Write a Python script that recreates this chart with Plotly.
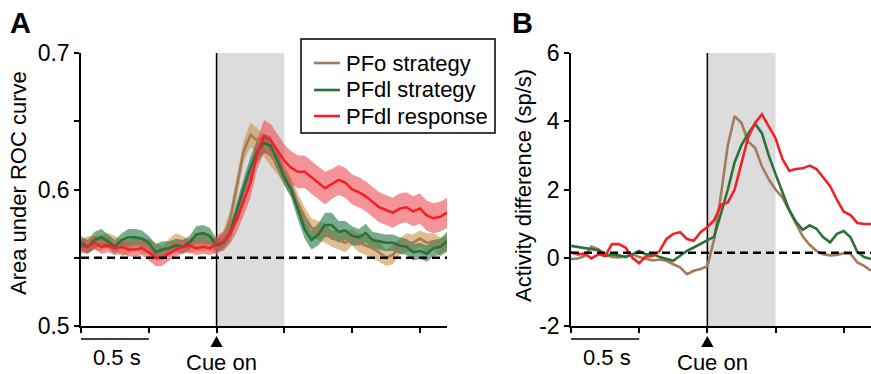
import numpy as np
import plotly.graph_objects as go

# ---------------- data ----------------
T_A = [round(-1.0 + 0.05 * i, 2) for i in range(55)]   # -1.00 .. 1.70 s
T_B = [round(-1.0 + 0.05 * i, 2) for i in range(45)]   # -1.00 .. 1.20 s

SERIES_NAMES = ["PFo strategy", "PFdl strategy", "PFdl response"]

A_PFO_STRAT = [0.558, 0.560, 0.561, 0.561, 0.563, 0.561, 0.557, 0.558, 0.561, 0.559, 0.558,
               0.555, 0.553, 0.559, 0.562, 0.561, 0.558, 0.561, 0.561, 0.560, 0.558,
               0.564, 0.578, 0.602, 0.628, 0.640, 0.636, 0.632, 0.625, 0.619, 0.611,
               0.602, 0.590, 0.580, 0.572, 0.570, 0.568, 0.564, 0.563, 0.561, 0.565,
               0.561, 0.559, 0.557, 0.554, 0.550, 0.552, 0.558, 0.561, 0.561, 0.564,
               0.561, 0.562, 0.558, 0.560]
A_PFDL_STRAT = [0.561, 0.558, 0.563, 0.565, 0.562, 0.558, 0.563, 0.565, 0.565, 0.564, 0.561,
                0.554, 0.556, 0.557, 0.559, 0.558, 0.561, 0.567, 0.568, 0.566, 0.559,
                0.561, 0.568, 0.585, 0.601, 0.616, 0.628, 0.634, 0.632, 0.621, 0.609,
                0.600, 0.585, 0.571, 0.563, 0.567, 0.574, 0.574, 0.569, 0.570, 0.566,
                0.565, 0.568, 0.563, 0.562, 0.561, 0.561, 0.559, 0.558, 0.554, 0.555,
                0.553, 0.557, 0.558, 0.562]
A_PFDL_RESP = [0.559, 0.558, 0.561, 0.558, 0.559, 0.557, 0.558, 0.556, 0.556, 0.557, 0.554,
               0.550, 0.550, 0.553, 0.556, 0.558, 0.559, 0.557, 0.558, 0.557, 0.560,
               0.562, 0.568, 0.578, 0.591, 0.605, 0.626, 0.639, 0.636, 0.628, 0.621,
               0.616, 0.613, 0.613, 0.609, 0.605, 0.601, 0.604, 0.607, 0.605, 0.600,
               0.598, 0.595, 0.591, 0.587, 0.585, 0.583, 0.586, 0.587, 0.584, 0.586,
               0.581, 0.579, 0.580, 0.583]

A_SEM_PFO_STRAT = [0.005, 0.006, 0.005, 0.006, 0.005, 0.005, 0.006, 0.005, 0.005, 0.006, 0.006,
                   0.006, 0.005, 0.005, 0.006, 0.005, 0.005, 0.006, 0.006, 0.005, 0.006,
                   0.006, 0.007, 0.008, 0.008, 0.009, 0.009, 0.008, 0.008, 0.008, 0.007,
                   0.007, 0.007, 0.007, 0.007, 0.007, 0.007, 0.006, 0.007, 0.007, 0.006,
                   0.007, 0.007, 0.007, 0.007, 0.006, 0.007, 0.006, 0.007, 0.006, 0.006,
                   0.007, 0.006, 0.007, 0.006]
A_SEM_PFDL_STRAT = [0.005, 0.005, 0.006, 0.006, 0.005, 0.005, 0.005, 0.006, 0.006, 0.006, 0.005,
                    0.006, 0.006, 0.005, 0.005, 0.005, 0.005, 0.006, 0.006, 0.006, 0.005,
                    0.005, 0.006, 0.007, 0.007, 0.008, 0.008, 0.007, 0.007, 0.007, 0.006,
                    0.006, 0.007, 0.007, 0.007, 0.008, 0.009, 0.009, 0.008, 0.007, 0.007,
                    0.006, 0.007, 0.006, 0.006, 0.006, 0.006, 0.006, 0.006, 0.006, 0.006,
                    0.006, 0.006, 0.006, 0.007]
A_SEM_PFDL_RESP = [0.005, 0.005, 0.005, 0.005, 0.005, 0.005, 0.005, 0.005, 0.005, 0.005, 0.006,
                   0.006, 0.006, 0.005, 0.005, 0.005, 0.005, 0.005, 0.005, 0.005, 0.006,
                   0.007, 0.008, 0.009, 0.010, 0.011, 0.011, 0.012, 0.012, 0.012, 0.012,
                   0.012, 0.012, 0.012, 0.012, 0.012, 0.012, 0.011, 0.011, 0.011, 0.011,
                   0.011, 0.011, 0.011, 0.011, 0.011, 0.011, 0.011, 0.011, 0.011, 0.011,
                   0.011, 0.011, 0.011, 0.011]

B_PFO_STRAT = [-0.04, -0.02, 0.05, 0.33, 0.25, 0.10, 0.02, 0.01, 0.04, 0.10, 0.02,
               -0.03, -0.08, -0.05, -0.09, -0.19, -0.28, -0.48, -0.38, -0.33, -0.25,
               0.55, 1.85, 3.30, 4.15, 3.95, 3.40, 3.22, 2.68, 2.30, 2.00,
               1.77, 1.40, 1.00, 0.62, 0.38, 0.20, 0.10, 0.07, 0.08, 0.13,
               0.12, -0.14, -0.24, -0.38]
B_PFDL_STRAT = [0.35, 0.32, 0.30, 0.26, 0.22, 0.05, 0.10, 0.07, 0.02, 0.10, 0.20,
                0.10, 0.11, 0.02, -0.04, -0.09, 0.06, 0.20, 0.30, 0.40, 0.50,
                0.62, 1.30, 2.00, 2.80, 3.30, 3.64, 3.93, 3.65, 3.00, 2.45,
                1.95, 1.40, 1.05, 0.82, 0.95, 0.85, 0.60, 0.45, 0.70, 0.78,
                0.60, 0.17, 0.02, -0.04]
B_PFDL_RESP = [0.16, 0.10, 0.12, -0.02, 0.10, 0.05, 0.40, 0.40, 0.30, 0.00, -0.16,
               0.04, 0.05, 0.20, 0.55, 0.70, 0.75, 0.55, 0.50, 0.75, 0.90,
               1.10, 1.55, 1.62, 2.00, 2.80, 3.54, 3.95, 4.20, 3.85, 3.50,
               2.90, 2.55, 2.60, 2.62, 2.70, 2.60, 2.35, 2.10, 1.70, 1.35,
               1.25, 1.02, 0.99, 0.99]

A_CHANCE = 0.55
B_BASELINE = 0.15
CUE_WINDOW = [0.0, 0.5]           # s, grey shading
SCALE_BAR = [-1.0, -0.5]          # 0.5 s scale bar
A_YTICKS = [0.5, 0.55, 0.6, 0.65, 0.7]
A_YTICKTEXT = ["0.5", "", "0.6", "", "0.7"]
B_YTICKS = [-2, 0, 2, 4, 6]
B_YTICKTEXT = ["-2", "0", "2", "4", "6"]
X_TICKS = [-1.0, -0.5, 0.0, 0.5, 1.0, 1.5]

# ---------------- style ----------------
W, H = 871, 374
FONT = "Liberation Sans, Arial, Helvetica, sans-serif"
LINE_COLORS = ["#a57a5a", "#2c7138", "#f02228"]
BAND_COLORS = ["rgba(200,150,70,0.60)", "rgba(40,120,70,0.62)", "rgba(236,70,80,0.58)"]

def px_x(p):
    return p / W

def px_y(p):
    return 1 - p / H

A_DOM_X = [px_x(81), px_x(447)]
B_DOM_X = [px_x(571), 1.0]
DOM_Y = [px_y(326), px_y(53)]

fig = go.Figure()

a_means = [A_PFO_STRAT, A_PFDL_STRAT, A_PFDL_RESP]
a_sems = [A_SEM_PFO_STRAT, A_SEM_PFDL_STRAT, A_SEM_PFDL_RESP]

# bands
for m, s, bc in zip(a_means, a_sems, BAND_COLORS):
    up = [a + b for a, b in zip(m, s)]
    lo = [a - b for a, b in zip(m, s)]
    fig.add_trace(go.Scatter(x=T_A + T_A[::-1], y=up + lo[::-1], fill="toself",
                             fillcolor=bc, line=dict(width=0), mode="lines",
                             hoverinfo="skip", showlegend=False, xaxis="x", yaxis="y"))
# lines A
for m, c, n in zip(a_means, LINE_COLORS, SERIES_NAMES):
    fig.add_trace(go.Scatter(x=T_A, y=m, mode="lines", line=dict(color=c, width=2.6),
                             name=n, showlegend=False, xaxis="x", yaxis="y"))
# chance line A
fig.add_trace(go.Scatter(x=[T_A[0], T_A[-1]], y=[A_CHANCE, A_CHANCE], mode="lines",
                         line=dict(color="black", width=2.5, dash="8px,5px"),
                         showlegend=False, hoverinfo="skip", xaxis="x", yaxis="y"))

# lines B
for m, c, n in zip([B_PFO_STRAT, B_PFDL_STRAT, B_PFDL_RESP], LINE_COLORS, SERIES_NAMES):
    fig.add_trace(go.Scatter(x=T_B, y=m, mode="lines", line=dict(color=c, width=2.6),
                             name=n, showlegend=False, xaxis="x2", yaxis="y2"))
fig.add_trace(go.Scatter(x=[T_B[0], T_B[-1]], y=[B_BASELINE, B_BASELINE], mode="lines",
                         line=dict(color="black", width=2.5, dash="8px,5px"),
                         showlegend=False, hoverinfo="skip", xaxis="x2", yaxis="y2"))

axis_common = dict(showline=True, linecolor="black", linewidth=1.5, ticks="outside",
                   ticklen=5, tickwidth=1.5, tickcolor="black", showgrid=False,
                   zeroline=False, automargin=False,
                   tickfont=dict(family=FONT, size=23, color="black"))

shapes = []
annotations = []
for xr, yr, yrange in [("x", "y", [0.5, 0.7]), ("x2", "y2", [-2, 6])]:
    shapes.append(dict(type="rect", xref=xr, yref=yr, x0=CUE_WINDOW[0], x1=CUE_WINDOW[1],
                       y0=yrange[0], y1=yrange[1], fillcolor="#dcdcdc", line=dict(width=0),
                       layer="below"))
    shapes.append(dict(type="line", xref=xr, yref=yr, x0=0, x1=0, y0=yrange[0], y1=yrange[1],
                       line=dict(color="black", width=1.5), layer="below"))
    # scale bar
    shapes.append(dict(type="line", xref=xr, yref="paper", x0=SCALE_BAR[0], x1=SCALE_BAR[1],
                       y0=px_y(339), y1=px_y(339), line=dict(color="black", width=1.5)))
    # cue triangle
    shapes.append(dict(type="path", xref=xr, yref="paper",
                       path=f"M -0.045,{px_y(347)} L 0.045,{px_y(347)} L 0,{px_y(336)} Z",
                       fillcolor="black", line=dict(color="black", width=0)))
    annotations.append(dict(xref=xr, yref="paper", x=0, y=px_y(362), xshift=5,
                            text="Cue on", showarrow=False, xanchor="center", yanchor="middle",
                            font=dict(family=FONT, size=22, color="black")))
    annotations.append(dict(xref=xr, yref="paper", x=sum(SCALE_BAR) / 2, y=px_y(357), xshift=2,
                            text="0.5 s", showarrow=False, xanchor="center", yanchor="middle",
                            font=dict(family=FONT, size=22, color="black")))

# legend box (panel A)
LEG_BOX = (301, 39, 495, 133)
LEG_ROWS = [63, 90, 116]
shapes.append(dict(type="rect", xref="paper", yref="paper",
                   x0=px_x(LEG_BOX[0]), x1=px_x(LEG_BOX[2]),
                   y0=px_y(LEG_BOX[3]), y1=px_y(LEG_BOX[1]),
                   fillcolor="white", line=dict(color="black", width=1.5)))
for name, c, ry in zip(SERIES_NAMES, LINE_COLORS, LEG_ROWS):
    shapes.append(dict(type="line", xref="paper", yref="paper", x0=px_x(314), x1=px_x(340),
                       y0=px_y(ry), y1=px_y(ry), line=dict(color=c, width=2.6)))
    annotations.append(dict(xref="paper", yref="paper", x=px_x(344), y=px_y(ry), text=name,
                            showarrow=False, xanchor="left", yanchor="middle",
                            font=dict(family=FONT, size=22, color="black")))

annotations += [
    dict(xref="paper", yref="paper", x=px_x(19), y=px_y(183), text="Area under ROC curve",
         textangle=-90, showarrow=False, xanchor="center", yanchor="middle",
         font=dict(family=FONT, size=22, color="black")),
    dict(xref="paper", yref="paper", x=px_x(523), y=px_y(186), text="Activity difference (sp/s)",
         textangle=-90, showarrow=False, xanchor="center", yanchor="middle",
         font=dict(family=FONT, size=22, color="black")),
    dict(xref="paper", yref="paper", x=px_x(20), y=px_y(23), text="<b>A</b>",
         showarrow=False, xanchor="center", yanchor="middle",
         font=dict(family=FONT, size=29, color="black")),
    dict(xref="paper", yref="paper", x=px_x(522), y=px_y(23), text="<b>B</b>",
         showarrow=False, xanchor="center", yanchor="middle",
         font=dict(family=FONT, size=29, color="black")),
]

fig.update_layout(
    template="none",
    width=W, height=H, margin=dict(l=0, r=0, t=0, b=0, autoexpand=False),
    paper_bgcolor="white", plot_bgcolor="rgba(0,0,0,0)",
    font=dict(family=FONT, size=22, color="black"),
    xaxis=dict(domain=A_DOM_X, range=[T_A[0], T_A[-1]], tickvals=X_TICKS,
               showticklabels=False, anchor="y", **axis_common),
    yaxis=dict(domain=DOM_Y, range=[0.5, 0.7], tickvals=A_YTICKS, ticktext=A_YTICKTEXT,
               anchor="x", **axis_common),
    xaxis2=dict(domain=B_DOM_X, range=[T_B[0], T_B[-1]], tickvals=X_TICKS,
                showticklabels=False, anchor="y2", **axis_common),
    yaxis2=dict(domain=DOM_Y, range=[-2, 6], tickvals=B_YTICKS, ticktext=B_YTICKTEXT,
                anchor="x2", **axis_common),
    shapes=shapes, annotations=annotations, showlegend=False,
)

fig.write_html("out.html", config={"displayModeBar": False},
               post_script="document.body.style.margin='0';document.body.style.overflow='hidden';")
